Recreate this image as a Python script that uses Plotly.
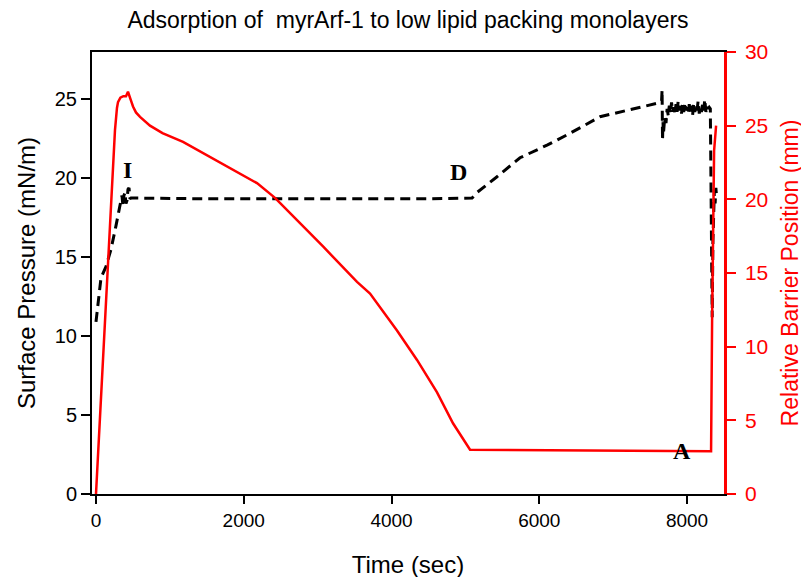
import plotly.graph_objects as go

# Barrier position (right axis, mm)
barrier_t = [0, 257, 284, 298, 330, 370, 406, 433, 474, 501, 541, 596, 731, 900, 1178, 1503, 1855, 2179, 2423, 2721,
             3073, 3533, 3709, 4074, 4345, 4616, 4832, 5063, 8325, 8339, 8352, 8366, 8393]
barrier_mm = [0, 24.7, 26.2, 26.6, 26.9, 27.0, 27.0, 27.3, 26.7, 26.3, 25.9, 25.6, 25.0, 24.5, 23.9, 23.0, 22.0, 21.1, 20.1, 18.6,
              16.8, 14.4, 13.6, 11.1, 9.1, 6.9, 4.8, 3.0, 2.9, 11.8, 20.0, 23.3, 25.0]

# Surface pressure (left axis, mN/m)
pressure_t = [0, 68, 135, 203, 271, 311, 325, 338, 352, 365, 378, 392, 406, 420, 433, 447, 460, 474,
              1500, 3000, 4500, 5090, 5157, 5428, 5739, 6105, 6416, 6822, 7093, 7364, 7594, 7655,
              7662, 7668, 7674, 7680, 7690, 7700, 7715, 7730, 7745, 7760, 7775, 7790, 7805, 7820, 7835, 7850,
              7865, 7880, 7895, 7910, 7925, 7940, 7955, 7970, 7985, 8000, 8015, 8030, 8045, 8060, 8075, 8090,
              8105, 8120, 8135, 8150, 8165, 8180, 8195, 8210, 8225, 8240, 8255, 8270, 8285, 8300, 8315,
              8322, 8328, 8334, 8340, 8350, 8360, 8370, 8380, 8390, 8400]
pressure = [10.9, 13.7, 14.4, 15.5, 17.0, 18.0, 18.5, 18.6, 18.9, 18.2, 18.9, 19.1, 18.4, 18.6, 19.3, 19.4, 18.7, 18.75,
            18.7, 18.7, 18.7, 18.75, 19.1, 20.1, 21.3, 22.1, 22.85, 23.9, 24.2, 24.5, 24.75, 24.9,
            25.6, 22.4, 23.6, 22.8, 23.4, 23.9, 23.5, 24.4, 24.0, 24.6, 24.1, 24.8, 24.2, 24.5, 24.0, 24.7,
            24.2, 24.9, 24.3, 24.6, 24.1, 24.7, 24.2, 24.8, 24.3, 24.5, 24.1, 24.7, 24.2, 24.6, 24.0, 24.8,
            24.2, 24.6, 24.3, 24.9, 24.1, 24.5, 24.2, 24.7, 24.3, 25.0, 24.2, 24.6, 24.4, 24.5, 24.4,
            21.0, 17.0, 13.5, 11.2, 16.0, 18.2, 19.3, 18.4, 19.4, 18.8]

labels = ["I", "D", "A"]
label_t = [420, 4900, 7932]
label_p = [20.5, 20.4, 2.7]

x_ticks = [0, 2000, 4000, 6000, 8000]
y_ticks = [0, 5, 10, 15, 20, 25]
y2_ticks = [0, 5, 10, 15, 20, 25, 30]

fig = go.Figure()
fig.add_trace(go.Scatter(x=barrier_t, y=barrier_mm, mode="lines", yaxis="y2",
                         line=dict(color="#ff0000", width=2.5), showlegend=False))
fig.add_trace(go.Scatter(x=pressure_t, y=pressure, mode="lines", yaxis="y",
                         line=dict(color="black", width=3, dash="10px,6px"), showlegend=False))

for lab, t, p in zip(labels, label_t, label_p):
    fig.add_annotation(x=t, y=p, text="<b>%s</b>" % lab, showarrow=False,
                       font=dict(family="Liberation Serif", size=24, color="black"))

font = "Liberation Sans"
fig.update_layout(
    width=809, height=577,
    margin=dict(l=84, r=93, t=44, b=91),
    paper_bgcolor="white", plot_bgcolor="white",
    title=dict(text="Adsorption of  myrArf-1 to low lipid packing monolayers",
               x=0.5, xref="paper", y=0.979, yref="container", xanchor="center", yanchor="middle",
               font=dict(family=font, size=23, color="black")),
    xaxis=dict(range=[-54, 8500], tickvals=x_ticks, ticks="outside", ticklen=8, tickwidth=2,
               tickcolor="black", showline=True, linecolor="black", linewidth=2, mirror=True,
               showgrid=False, zeroline=False,
               tickfont=dict(family=font, size=19, color="black"),
               title=dict(text="Time (sec)", font=dict(family=font, size=24, color="black"), standoff=26)),
    yaxis=dict(range=[0, 28], tickvals=y_ticks, ticks="outside", ticklen=9, tickwidth=2,
               tickcolor="black", showline=True, linecolor="black", linewidth=2,
               showgrid=False, zeroline=False,
               tickfont=dict(family=font, size=20, color="black"),
               title=dict(text="Surface Pressure (mN/m)", font=dict(family=font, size=24, color="black"), standoff=12)),
    yaxis2=dict(range=[0, 30], tickvals=y2_ticks, overlaying="y", side="right", ticks="outside",
                ticklen=9, tickwidth=2, tickcolor="#ff0000", showline=True, linecolor="#ff0000",
                linewidth=2.5, showgrid=False, zeroline=False, ticklabelstandoff=5,
                tickfont=dict(family=font, size=21, color="#ff0000"),
                title=dict(text="Relative Barrier Position (mm)", font=dict(family=font, size=23, color="#ff0000"), standoff=15)),
)

fig.write_html("out.html")
